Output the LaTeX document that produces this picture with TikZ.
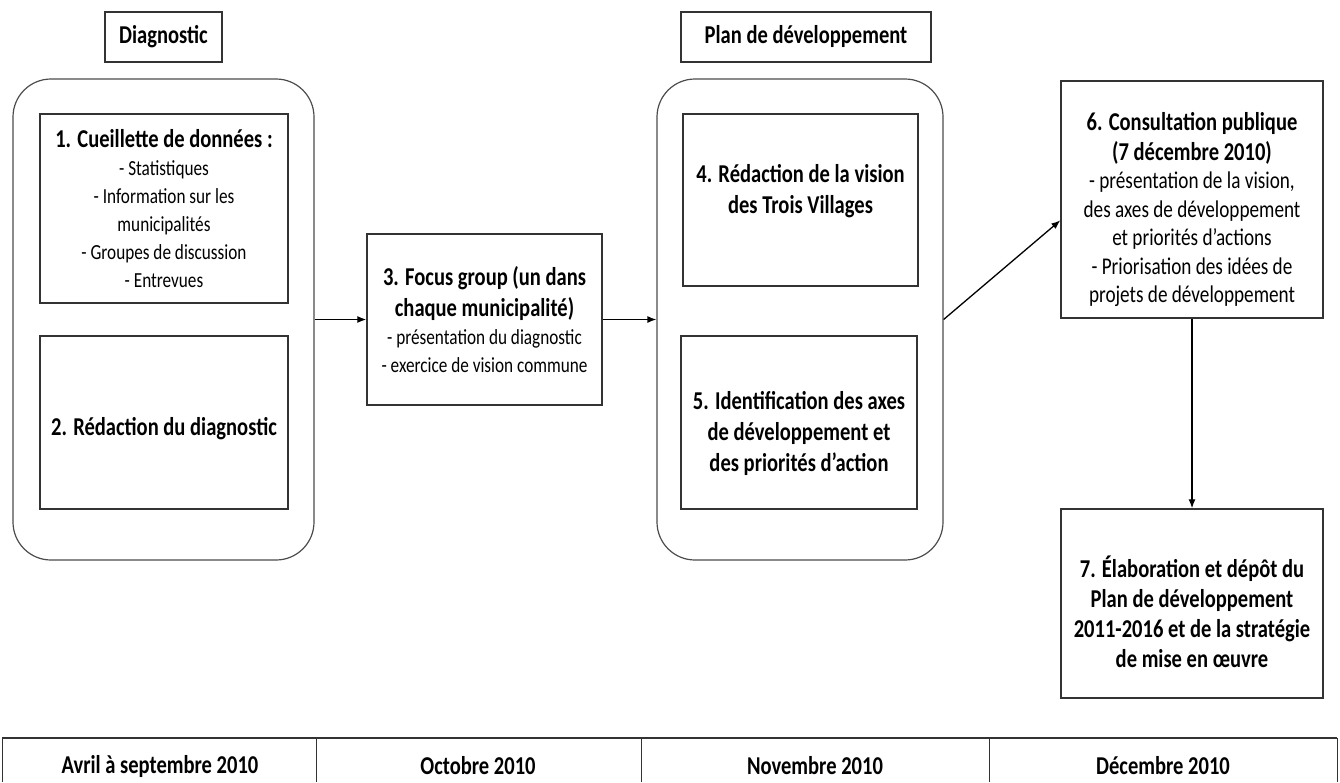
\documentclass[tikz,border=0pt]{standalone}
\usepackage{fontspec}
\setmainfont{Carlito}[FakeStretch=0.8]
\usepackage{tikz}
\usetikzlibrary{arrows.meta}

\newcommand{\ttl}[1]{{\fontsize{25.7}{31}\selectfont\bfseries #1}}

\begin{document}
\begin{tikzpicture}[->,>={Latex[length=9pt,width=7pt]},x=1pt,y=-1pt,
        every node/.style={font=\fontsize{21.5}{28}\selectfont},
        box/.style={draw=black!80,line width=1.4pt,inner sep=0pt,align=center},
        group/.style={draw=black!70,line width=1.2pt,rounded corners=38pt,inner sep=0pt},
        heading/.style={box,font=\fontsize{25.7}{31}\selectfont\bfseries},
        month/.style={font=\fontsize{25.7}{31}\selectfont\bfseries},
        every edge/.style={draw,line width=1.3pt}]

  \useasboundingbox (0,0) rectangle (1340,782);

  % groups and headings
  \node[group,minimum width=301pt,minimum height=481pt] (g_1) at (163.5,319.5) {};
  \node[group,minimum width=286pt,minimum height=481pt] (g_2) at (800,319.5) {};
  \node[heading,minimum width=117pt,minimum height=50pt] (h_1) at (163.5,37) {Diagnostic};
  \node[heading,minimum width=250pt,minimum height=50pt] (h_2) at (806,37) {Plan de développement};

  % steps
  \node[box,minimum width=248pt,minimum height=189pt] (s_1) at (164,208.5)
    {\ttl{1. Cueillette de données :}\\- Statistiques\\- Information sur les\\municipalités\\- Groupes de discussion\\- Entrevues};
  \node[box,minimum width=248pt,minimum height=173pt] (s_2) at (164,422.5)
    {\mbox{}\\[3pt]\ttl{2. Rédaction du diagnostic}};
  \node[box,minimum width=235pt,minimum height=171pt] (s_3) at (484.5,319.5)
    {\ttl{3. Focus group (un dans}\\[3pt]\ttl{chaque municipalité)}\\- présentation du diagnostic\\- exercice de vision commune};
  \node[box,minimum width=235pt,minimum height=172pt] (s_4) at (800.5,200)
    {\ttl{4. Rédaction de la vision}\\[3pt]\ttl{des Trois Villages}\\[-6pt]};
  \node[box,minimum width=236pt,minimum height=173pt] (s_5) at (799,422.5)
    {\mbox{}\\[12pt]\ttl{5. Identification des axes}\\[3pt]\ttl{de développement et}\\[3pt]\ttl{des priorités d’action}};
  \node[box,minimum width=262pt,minimum height=237pt,font=\fontsize{24}{28.5}\selectfont] (s_6) at (1192,199.5)
    {\mbox{}\\[10pt]\ttl{6. Consultation publique}\\[1pt]\ttl{(7 décembre 2010)}\\- présentation de la vision,\\des axes de développement\\et priorités d’actions\\- Priorisation des idées de\\projets de développement};
  \node[box,minimum width=262pt,minimum height=189pt,font=\fontsize{25.7}{30}\selectfont\bfseries] (s_7) at (1192,603.5)
    {\mbox{}\\[8pt]7. Élaboration et dépôt du\\Plan de développement\\2011-2016 et de la stratégie\\de mise en œuvre};

  \path (g_1.east) edge (s_3.west)
        (s_3.east) edge (g_2.west)
        (g_2.east) edge (s_6.189)
        (s_6.south) edge (s_7.north);

  % timeline
  \draw[-,line width=2.4pt,black!80] (2,738) -- (1337,738);
  \draw[-,line width=1pt,black!80] (2,738) -- (2,782) (316,738) -- (316,782)
        (641,738) -- (641,782) (989,738) -- (989,782) (1337,738) -- (1337,782);
  \node[month] (m_1) at (160,766) {Avril à septembre 2010};
  \node[month] (m_2) at (478,766) {Octobre 2010};
  \node[month] (m_3) at (815,766) {Novembre 2010};
  \node[month] (m_4) at (1163,766) {Décembre 2010};

\end{tikzpicture}
\end{document}
